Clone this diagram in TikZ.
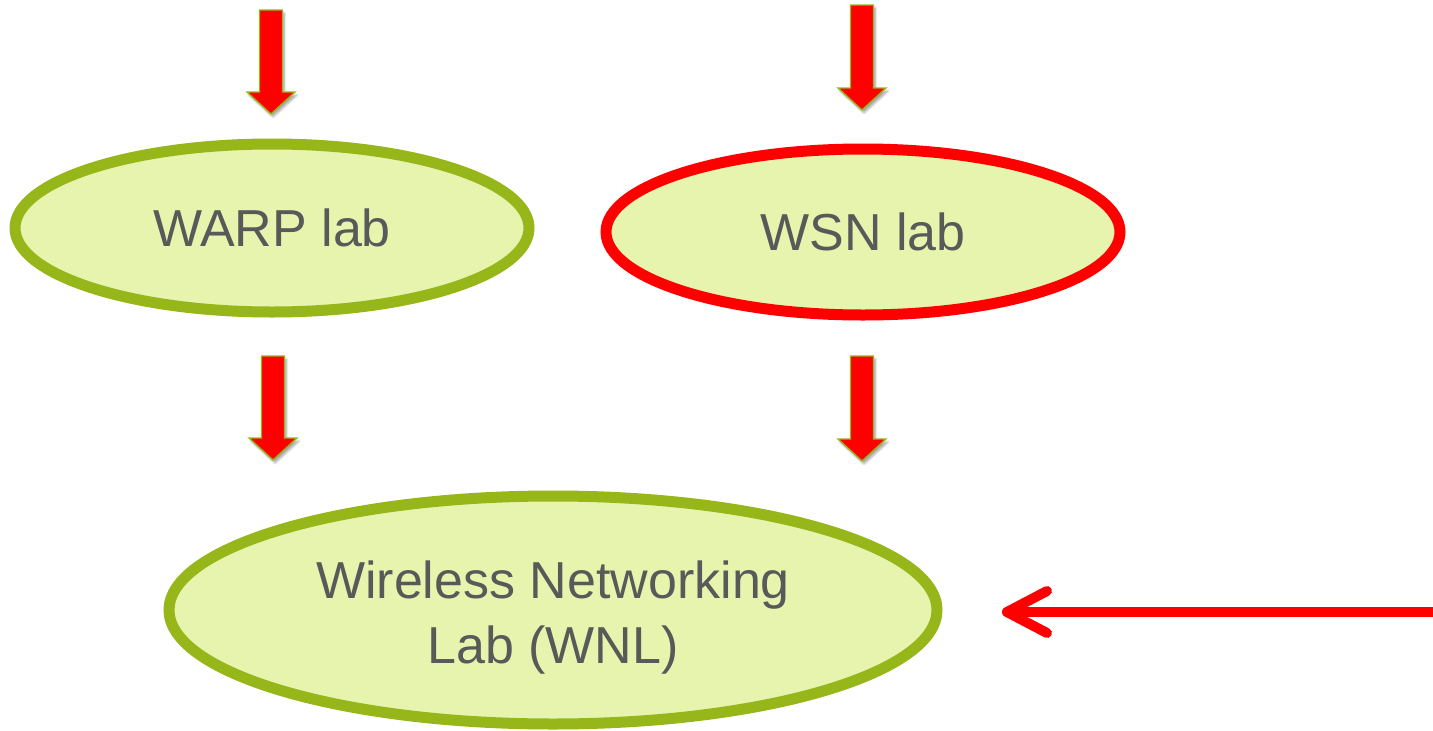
\documentclass[tikz,border=0pt]{standalone}
\usepackage{fontspec}
\setmainfont{Liberation Sans}
\usetikzlibrary{shapes.geometric,shadows.blur}
\definecolor{lgreen}{RGB}{150,182,26}
\definecolor{lfill}{RGB}{230,244,174}
\definecolor{txt}{RGB}{89,89,89}
\definecolor{bred}{RGB}{255,0,0}
\tikzset{
  lab/.style={ellipse, fill=lfill, line width=11pt, inner sep=0pt},
  labtext/.style={text=txt, font=\fontsize{52}{65}\selectfont, align=center, inner sep=0pt},
  blockarrow/.style={fill=bred, draw=lgreen, line width=1.3pt, line join=miter,
    blur shadow={shadow xshift=2pt, shadow yshift=-3pt, shadow blur steps=6, shadow opacity=35}},
}
% #1 = centre x, #2 = top y, #3 = tip y
\newcommand\myblockarrow[3]{%
  \path[blockarrow] (#1-11.5,#2) -- (#1+11.5,#2) -- (#1+11.5,#3-22) -- (#1+24,#3-22)
    -- (#1,#3) -- (#1-24,#3-22) -- (#1-11.5,#3-22) -- cycle;}
\begin{document}
\begin{tikzpicture}[x=1pt,y=-1pt]
\useasboundingbox (0,0) rectangle (1433,731);
\node[lab, draw=lgreen, minimum width=514pt, minimum height=168pt] (warp) at (272,228) {};
\node[labtext] (warpt) at (warp.center) {WARP lab};
\node[lab, draw=bred, minimum width=514pt, minimum height=166pt] (wsn) at (863,232) {};
\node[labtext] (wsnt) at (wsn.center) {WSN lab};
\node[lab, draw=lgreen, minimum width=768pt, minimum height=228pt] (wnl) at (553,610) {};
\node[labtext] (wnlt) at (553,618) {Wireless Networking\\Lab (WNL)};
\myblockarrow{271}{10}{114}
\myblockarrow{862}{5}{110}
\myblockarrow{273}{356}{460}
\myblockarrow{862}{356}{461}
\coordinate (src) at (1440,612);
\coordinate (tip) at (1007,612);
\draw[bred, line width=10pt, line cap=round, line join=round] (src) -- (tip);
\draw[bred, line width=10pt, line cap=round, line join=round] (1047,591) -- (tip) -- (1047,633);
\end{tikzpicture}
\end{document}
